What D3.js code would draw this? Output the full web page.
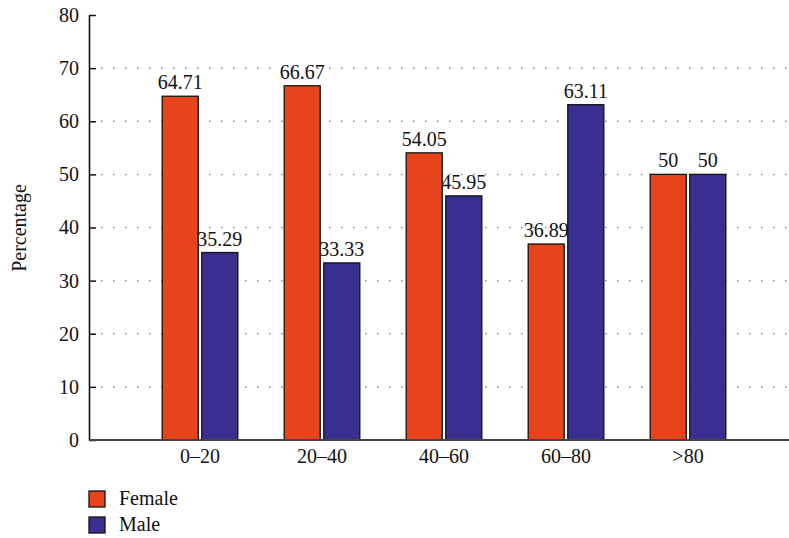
<!DOCTYPE html>
<html>
<head>
<meta charset="utf-8">
<script src="https://cdn.jsdelivr.net/npm/d3@7"></script>
<style>
  html, body { margin: 0; padding: 0; background: #fff; }
  svg { display: block; }
  text { font-family: "Liberation Serif", "Times New Roman", serif; fill: #111; }
</style>
</head>
<body>
<svg id="chart" width="789" height="538"></svg>
<script>
// Age groups and share of each sex within them (%)
const categories = ["0–20", "20–40", "40–60", "60–80", ">80"];
const seriesNames = ["Female", "Male"];
const female = [64.71, 66.67, 54.05, 36.89, 50];
const male = [35.29, 33.33, 45.95, 63.11, 50];
const yTicks = [0, 10, 20, 30, 40, 50, 60, 70, 80];
const colors = ["#E8441B", "#382F91"];

const svg = d3.select("#chart");
const axisLeft = 89, axisRight = 789, yTop = 15, yBottom = 440;
const fontSize = 20;

const y = d3.scaleLinear().domain([0, 80]).range([yBottom, yTop]);
const x = d3.scaleBand().domain(categories).range([139, 749]).paddingInner(0.38).paddingOuter(0.19);
const sub = d3.scaleBand().domain(seriesNames).range([0, x.bandwidth()]).paddingInner(0.09);

// Dotted horizontal guides (behind the bars)
svg.append("g").selectAll("line")
  .data(yTicks.filter(t => t > 0 && t < 80))
  .join("line")
  .attr("x1", axisLeft + 12).attr("x2", axisRight)
  .attr("y1", d => y(d)).attr("y2", d => y(d))
  .attr("stroke", "#8a8a8a")
  .attr("stroke-width", 1.5)
  .attr("stroke-dasharray", "1.5,10.5");

// Bars
const rows = categories.map((c, i) => ({ cat: c, values: [female[i], male[i]] }));
const groups = svg.append("g").selectAll("g")
  .data(rows).join("g")
  .attr("transform", d => `translate(${x(d.cat)},0)`);

groups.selectAll("rect")
  .data(d => d.values.map((v, j) => ({ key: seriesNames[j], v, j })))
  .join("rect")
  .attr("x", d => sub(d.key))
  .attr("width", sub.bandwidth())
  .attr("y", d => y(d.v))
  .attr("height", d => y(0) - y(d.v))
  .attr("fill", d => colors[d.j])
  .attr("stroke", "#111")
  .attr("stroke-width", 1.3);

// Value labels
groups.selectAll("text")
  .data(d => d.values.map((v, j) => ({ key: seriesNames[j], v })))
  .join("text")
  .attr("x", d => sub(d.key) + sub.bandwidth() / 2)
  .attr("y", d => y(d.v) - 7)
  .attr("text-anchor", "middle")
  .attr("font-size", fontSize)
  .text(d => String(d.v));

// Y axis (ticks point inward)
const yAxis = d3.axisLeft(y).tickValues(yTicks).tickSize(-7).tickPadding(10).tickSizeOuter(0);
const yg = svg.append("g").attr("transform", `translate(${axisLeft},0)`).call(yAxis);
yg.select(".domain").attr("stroke", "#111").attr("stroke-width", 1.6);
yg.selectAll(".tick line").attr("stroke", "#111").attr("stroke-width", 1.5);
yg.selectAll(".tick text")
  .attr("font-size", fontSize)
  .attr("fill", "#111");

// X baseline and category labels
svg.append("line")
  .attr("x1", axisLeft).attr("x2", axisRight)
  .attr("y1", y(0)).attr("y2", y(0))
  .attr("stroke", "#444").attr("stroke-width", 2);

svg.append("g").selectAll("text")
  .data(categories).join("text")
  .attr("x", d => x(d) + x.bandwidth() / 2)
  .attr("y", 463)
  .attr("text-anchor", "middle")
  .attr("font-size", fontSize)
  .text(d => d);

// Y axis title
svg.append("text")
  .attr("transform", `translate(26,228) rotate(-90)`)
  .attr("text-anchor", "middle")
  .attr("font-size", fontSize)
  .text("Percentage");

// Legend
const legend = svg.append("g").selectAll("g")
  .data(seriesNames).join("g")
  .attr("transform", (d, i) => `translate(89,${491 + i * 26})`);
legend.append("rect")
  .attr("width", 16).attr("height", 16)
  .attr("fill", (d, i) => colors[i])
  .attr("stroke", "#111").attr("stroke-width", 1.3);
legend.append("text")
  .attr("x", 30).attr("y", 14)
  .attr("font-size", fontSize)
  .text(d => d);
</script>
</body>
</html>
